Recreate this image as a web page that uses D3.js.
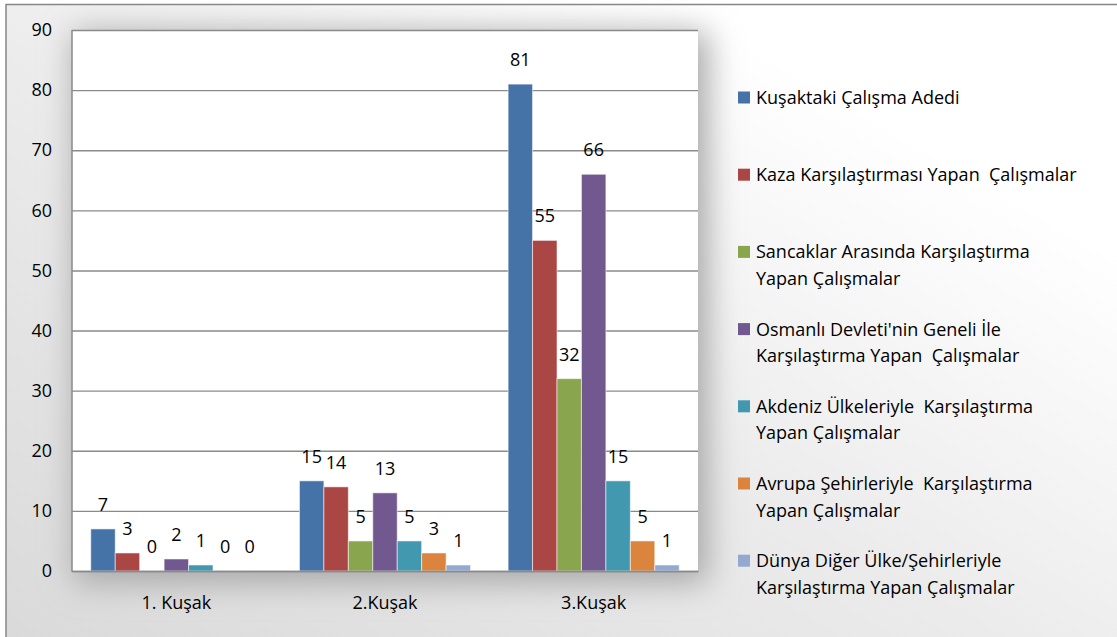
<!DOCTYPE html>
<html>
<head>
<meta charset="utf-8">
<script src="https://cdn.jsdelivr.net/npm/d3@7"></script>
<style>
  html, body { margin: 0; padding: 0; background: #ffffff; }
  svg { display: block; }
  text { font-family: "Open Sans", "Noto Sans", sans-serif; fill: #000; }
</style>
</head>
<body>
<svg id="chart" width="1117" height="637"></svg>
<script>
// ---- data ----
const categories = ["1. Kuşak", "2.Kuşak", "3.Kuşak"];
const seriesNames = [
  "Kuşaktaki Çalışma Adedi",
  "Kaza Karşılaştırması Yapan  Çalışmalar",
  "Sancaklar Arasında Karşılaştırma\nYapan Çalışmalar",
  "Osmanlı Devleti'nin Geneli İle\nKarşılaştırma Yapan  Çalışmalar",
  "Akdeniz Ülkeleriyle  Karşılaştırma\nYapan Çalışmalar",
  "Avrupa Şehirleriyle  Karşılaştırma\nYapan Çalışmalar",
  "Dünya Diğer Ülke/Şehirleriyle\nKarşılaştırma Yapan Çalışmalar"
];
const kusaktaki = [7, 15, 81];
const kaza      = [3, 14, 55];
const sancaklar = [0, 5, 32];
const osmanli   = [2, 13, 66];
const akdeniz   = [1, 5, 15];
const avrupa    = [0, 3, 5];
const dunya     = [0, 1, 1];
const seriesValues = [kusaktaki, kaza, sancaklar, osmanli, akdeniz, avrupa, dunya];
const yTicks = [0, 10, 20, 30, 40, 50, 60, 70, 80, 90];
const colors = ["#4572A7", "#AA4643", "#89A54E", "#71588F", "#4198AF", "#DB843D", "#93A9CF"];

// ---- layout ----
const svg = d3.select("#chart");
const W = 1117, H = 637;
const plot = { left: 72, top: 30, right: 698, bottom: 571 };
const FS = 18;

const defs = svg.append("defs");
const bg = defs.append("linearGradient").attr("id", "bgGrad")
  .attr("x1", "0").attr("y1", "1").attr("x2", "1").attr("y2", "0");
bg.append("stop").attr("offset", "0").attr("stop-color", "#d9d9d9");
bg.append("stop").attr("offset", "0.45").attr("stop-color", "#ebebeb");
bg.append("stop").attr("offset", "0.8").attr("stop-color", "#ffffff");
bg.append("stop").attr("offset", "1").attr("stop-color", "#ffffff");

const blur = defs.append("filter").attr("id", "glow")
  .attr("x", "-20%").attr("y", "-20%").attr("width", "140%").attr("height", "140%");
blur.append("feGaussianBlur").attr("stdDeviation", 16);

// outer chart area
svg.append("rect").attr("x", 6).attr("y", 4.5).attr("width", W + 20).attr("height", H + 20)
  .attr("fill", "url(#bgGrad)").attr("stroke", "#868686").attr("stroke-width", 1.5);

// plot shadow
svg.append("rect")
  .attr("x", plot.left + 2).attr("y", plot.top + 2)
  .attr("width", plot.right - plot.left + 8).attr("height", plot.bottom - plot.top + 10)
  .attr("fill", "#a8a8a8").attr("filter", "url(#glow)");

svg.append("rect")
  .attr("x", plot.left).attr("y", plot.top)
  .attr("width", plot.right - plot.left).attr("height", plot.bottom - plot.top)
  .attr("fill", "#ffffff");

// ---- scales ----
const y = d3.scaleLinear().domain([0, 90]).range([plot.bottom, plot.top]);
const x0 = d3.scaleBand().domain(categories).range([plot.left, plot.right]).padding(0);
const x1 = d3.scaleBand().domain(d3.range(seriesNames.length))
  .range([x0.bandwidth() * 0.09, x0.bandwidth() * 0.91]).padding(0);

// gridlines
const yAxis = d3.axisLeft(y).tickValues(yTicks).tickSize(-(plot.right - plot.left)).tickPadding(20);
const gy = svg.append("g").attr("transform", `translate(${plot.left},0)`).call(yAxis);
gy.select(".domain").remove();
gy.selectAll(".tick line").attr("stroke", "#8a8a8a").attr("stroke-width", 1.4);
gy.selectAll(".tick text").attr("font-size", FS).attr("font-family", "Open Sans").attr("fill", "#000");

// bars
const groups = svg.append("g").selectAll("g").data(categories).join("g")
  .attr("transform", d => `translate(${x0(d)},0)`);
groups.selectAll("rect")
  .data((c, ci) => seriesValues.map((vals, si) => ({ si, v: vals[ci] })))
  .join("rect")
  .attr("x", d => x1(d.si))
  .attr("width", x1.bandwidth())
  .attr("y", d => y(d.v))
  .attr("height", d => y(0) - y(d.v))
  .attr("fill", d => colors[d.si])
  .attr("stroke", "rgba(255,255,255,0.55)")
  .attr("stroke-width", d => d.v > 0 ? 1 : 0);

// data labels
groups.selectAll("text.lbl")
  .data((c, ci) => seriesValues.map((vals, si) => ({ si, v: vals[ci] })))
  .join("text").attr("class", "lbl")
  .attr("x", d => x1(d.si) + x1.bandwidth() / 2)
  .attr("y", d => y(d.v) - 18)
  .attr("text-anchor", "middle")
  .attr("font-size", FS)
  .text(d => d.v);

// axis lines
svg.append("line").attr("x1", plot.left).attr("x2", plot.left)
  .attr("y1", plot.top).attr("y2", plot.bottom + 0.7)
  .attr("stroke", "#8a8a8a").attr("stroke-width", 1.5);
const xAxis = d3.axisBottom(x0).tickSize(0).tickPadding(25);
const gx = svg.append("g").attr("transform", `translate(0,${plot.bottom})`).call(xAxis);
gx.select(".domain").attr("stroke", "#8a8a8a").attr("stroke-width", 1.5);
gx.selectAll(".tick text").attr("font-size", FS).attr("font-family", "Open Sans").attr("fill", "#000");

// legend
const legendTops = 97, legendStep = 77.2, lineH = 26.5;
const leg = svg.append("g").selectAll("g").data(seriesNames).join("g")
  .attr("transform", (d, i) => `translate(738,${legendTops + i * legendStep})`);
leg.append("rect").attr("x", 0).attr("y", -5.5).attr("width", 12).attr("height", 12)
  .attr("fill", (d, i) => colors[i]);
leg.each(function (d) {
  const t = d3.select(this).append("text").attr("x", 18).attr("y", 0)
    .attr("font-size", FS).attr("dominant-baseline", "central")
    .style("white-space", "pre");
  d.split("\n").forEach((line, li) => {
    t.append("tspan").attr("x", 18).attr("dy", li === 0 ? 0 : lineH).text(line);
  });
});
</script>
</body>
</html>
